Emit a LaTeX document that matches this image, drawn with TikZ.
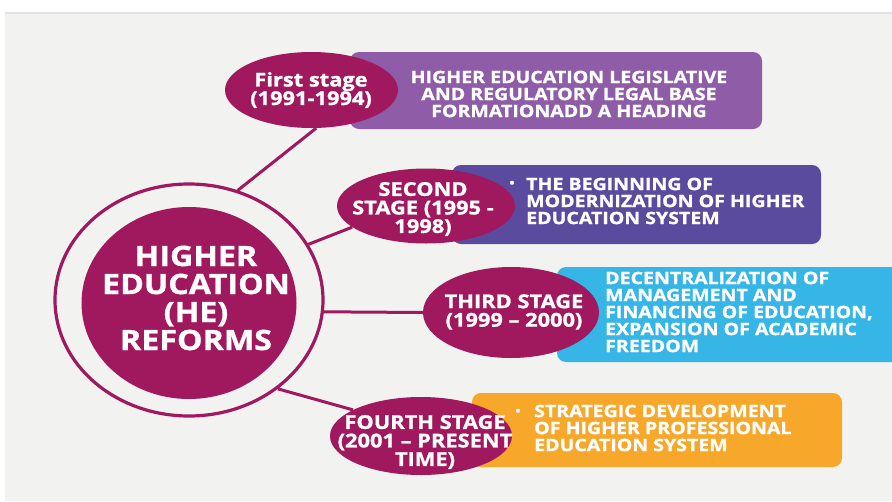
\documentclass[tikz,border=0pt]{standalone}
\usepackage{fontspec}
\setmainfont{Open Sans}[FakeStretch=1.15, BoldFeatures={FakeBold=1.2}]
\usetikzlibrary{shapes.geometric}
\definecolor{mag}{HTML}{A0185E}
\definecolor{bgc}{HTML}{F2F2F1}
\definecolor{topline}{HTML}{E1E3E5}
\definecolor{cA}{HTML}{8F5DA8}
\definecolor{cB}{HTML}{5B4B9F}
\definecolor{cC}{HTML}{35B6E6}
\definecolor{cD}{HTML}{F7A82A}
\begin{document}
\begin{tikzpicture}[x=1pt,y=-1pt,
  stagebox/.style={ellipse, fill=mag, inner sep=0pt},
  stagetext/.style={text=white, font=\bfseries\fontsize{19}{18.5}\selectfont, align=center, inner sep=0pt},
  infobox/.style={rounded corners=9pt, inner sep=0pt},
  infotext/.style={text=white, font=\bfseries\fontsize{17}{17}\selectfont, inner sep=0pt},
  dot/.style={text=white, font=\bfseries\fontsize{12}{12}\selectfont, inner sep=0pt},
  link/.style={draw=mag, line width=3pt}]
\useasboundingbox (0,0) rectangle (892,501);
\fill[white] (0,0) rectangle (892,501);
\fill[bgc] (5,13) rectangle (892,501);
\draw[topline, line width=1.2pt] (5,13) -- (892,13);

% information boxes
\node[infobox, fill=cA, minimum width=412pt, minimum height=77pt] (b1) at (556,90.5) {};
\node[infobox, fill=cB, minimum width=369pt, minimum height=79pt] (b2) at (636.5,204.5) {};
\node[infobox, fill=cC, minimum width=350pt, minimum height=95pt] (b3) at (732,314.5) {};
\node[infobox, fill=cD, minimum width=370pt, minimum height=74pt] (b4) at (657,430) {};

% centre
\node[ellipse, draw=mag, line width=3.2pt, minimum width=268pt, minimum height=232pt] (ring) at (189,300) {};
\node[stagebox, minimum width=215pt, minimum height=192pt] (core) at (189,303) {};
\node[text=white, font=\bfseries\fontsize{28}{28}\selectfont, align=center, inner sep=0pt] (coretext) at (196,298) {HIGHER\\EDUCATION\\(HE)\\REFORMS};

% stages
\node[stagebox, minimum width=173pt, minimum height=76pt] (s1) at (311.5,90) {};
\node[stagebox, minimum width=178pt, minimum height=75pt] (s2) at (426,206) {};
\node[stagebox, minimum width=176pt, minimum height=91pt] (s3) at (511,312.5) {};
\node[stagebox, minimum width=182pt, minimum height=78pt] (s4) at (421,436) {};

% connectors
\draw[link] (ring.66) -- (s1.-83);
\draw[link] (ring.25) -- (s2.196);
\draw[link] (ring.-5) -- (s3.west);
\draw[link] (ring.-45) -- (s4.159);

% stage labels
\node[stagetext] (l1) at (311,90) {First stage\\(1991-1994)};
\node[stagetext] (l2) at (423,209) {SECOND\\STAGE (1995 -\\1998)};
\node[stagetext] (l3) at (514,312) {THIRD STAGE\\(1999 – 2000)};
\node[stagetext] (l4) at (425,442) {FOURTH STAGE\\(2001 – PRESENT\\TIME)};

% box texts
\node[infotext, align=center] (t1) at (569,94) {HIGHER EDUCATION LEGISLATIVE\\AND REGULATORY LEGAL BASE\\FORMATIONADD A HEADING};
\node[dot] (d2) at (512,184) {•};
\node[infotext, align=left, anchor=west] (t2) at (526,201) {THE BEGINNING OF\\MODERNIZATION OF HIGHER\\EDUCATION SYSTEM};
\node[infotext, align=left, anchor=west] (t3) at (605,312) {DECENTRALIZATION OF\\MANAGEMENT AND\\FINANCING OF EDUCATION,\\EXPANSION OF ACADEMIC\\FREEDOM};
\node[dot] (d4) at (518,412) {•};
\node[infotext, align=left, anchor=west] (t4) at (534,428) {STRATEGIC DEVELOPMENT\\OF HIGHER PROFESSIONAL\\EDUCATION SYSTEM};
\end{tikzpicture}
\end{document}
